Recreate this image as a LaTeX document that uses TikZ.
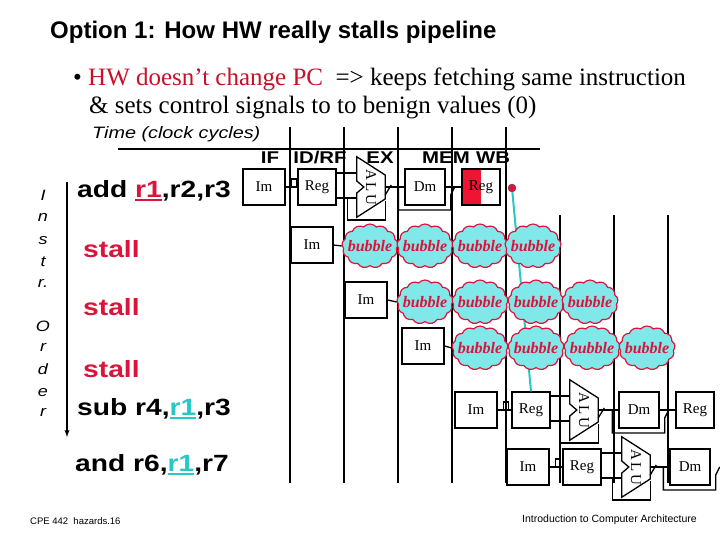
\documentclass[tikz,border=0pt]{standalone}
\usepackage{fontspec}
\setmainfont{Liberation Serif}
\newfontfamily\wsans[FakeStretch=1.2]{Liberation Sans}
\newfontfamily\nsans{Liberation Sans}
\usetikzlibrary{arrows,calc,positioning,shapes.symbols}
\definecolor{crimson}{RGB}{220,20,60}
\definecolor{bulletred}{RGB}{200,16,40}
\definecolor{bubblecyan}{RGB}{128,232,232}
\definecolor{regcyan}{RGB}{40,200,200}
\definecolor{wbred}{RGB}{238,20,50}

\tikzset{
  clockline/.style={line width=1.4pt},
  wire/.style={line width=1.3pt},
  stage/.style={draw, line width=1.3pt, minimum height=36, inner sep=0, fill=white,
    font=\fontsize{15}{15}\selectfont},
  imbox/.style={stage, minimum width=42},
  regbox/.style={stage, minimum width=38},
  dmbox/.style={stage, minimum width=40},
  wbhalf/.style={path picture={\fill[wbred] (path picture bounding box.north west)
    rectangle (path picture bounding box.south);}},
  alubody/.style={minimum width=28, minimum height=60, inner sep=0,
    label={[rotate=-90, inner sep=0, font=\fontsize{15}{15}\selectfont]center:A\,L\,U}},
  bubbletext/.style={inner sep=0, text=crimson, font=\bfseries\itshape\fontsize{16}{16}\selectfont},
  bubble/.style={cloud, cloud puffs=13, cloud puff arc=100, cloud ignores aspect,
    draw=crimson, line width=1.2pt, fill=bubblecyan, minimum width=56, minimum height=44,
    inner sep=0, label={[bubbletext]center:bubble}},
  titletext/.style={anchor=base west, inner sep=0, font=\nsans\bfseries\fontsize{24}{28}\selectfont},
  bullettext/.style={anchor=base west, inner sep=0, font=\fontsize{25}{28}\selectfont},
  timetext/.style={anchor=base west, inner sep=0, font=\wsans\itshape\fontsize{16.5}{18}\selectfont},
  stagelbl/.style={anchor=base, inner sep=0, font=\wsans\bfseries\fontsize{17}{18}\selectfont},
  ordertext/.style={anchor=base, inner sep=0, font=\wsans\itshape\fontsize{15}{15}\selectfont},
  instr/.style={anchor=base west, inner sep=0, font=\wsans\bfseries\fontsize{23.5}{26}\selectfont},
  stalltext/.style={instr, text=crimson},
  hazdot/.style={circle, fill=crimson, draw=black!70, inner sep=0, minimum size=8},
  fwdline/.style={line width=2pt, draw=regcyan},
  foottext/.style={anchor=base west, inner sep=0, font=\nsans\fontsize{9.5}{10}\selectfont}
}

% register name with a thick underline
\newcommand{\regmark}[2]{\textcolor{#1}{\sbox0{#2}\rlap{\rule[-4pt]{\wd0}{2.2pt}}\usebox0}}

% ALU outline round an alubody node
\newcommand{\aluoutline}[1]{%
  \draw[wire] (#1.north west) -- ($(#1.east)+(0,-12)$) -- ($(#1.east)+(0,12)$)
    -- (#1.south west) -- ($(#1.west)+(0,6)$) -- ($(#1.west)+(7,0)$)
    -- ($(#1.west)+(0,-6)$) -- cycle;}

% wires of one instruction, #1 = name prefix
\newcommand{\pipewires}[1]{%
  \draw[wire] (#1-im.east) -- (#1-reg.west);
  \draw[wire] ($(#1-im.east)+(6,0)$) -- ++(0,-8) -- ++(5,0) -- ++(0,8);
  \draw[wire] ($(#1-reg.east)+(0,-14)$) -- ($(#1-alu.west)+(0,-14)$);
  \draw[wire] ($(#1-reg.east)+(0,11)$) -- ($(#1-alu.west)+(0,11)$);
  \draw[wire] ($(#1-alu.west)+(-9,11)$) |- ($(#1-alu.east)+(0,33)$) -- ++(0,-19);
  \draw[wire] (#1-alu.east) -- (#1-dm.west);
  \draw[wire] ($(#1-alu.east)+(0,8)$) -- ++(6,-10);
  \draw[wire] ($(#1-dm.west)+(-6,0)$) -- ++(0,23) -| ($(#1-dm.east)+(5,8)$) -- ++(4,-8);
  \aluoutline{#1-alu}}

\begin{document}
\begin{tikzpicture}[x=1pt,y=-1pt]
\useasboundingbox[fill=white] (0,0) rectangle (720,540);

% Heading
\node[titletext] (title) at (50,39) {Option 1: How HW really stalls pipeline};
\node[bullettext] (pt1) at (73,86)
  {\textbullet\ \textcolor{bulletred}{HW doesn't change PC}\ \ => keeps fetching same instruction};
\node[bullettext] (pt2) at (89,114) {\& sets control signals to to benign values (0)};

% Time axis
\node[timetext] (timelbl) at (92,139) {Time (clock cycles)};
\draw[clockline] (118,149) -- (540,149);
\foreach \x in {290,344,398,452,506}
  \draw[clockline] (\x,127) -- (\x,483);
\foreach \x in {560,614,668}
  \draw[clockline] (\x,215) -- (\x,483);

\node[stagelbl] (lbl-if) at (270,164) {IF};
\node[stagelbl] (lbl-id) at (320,164) {ID/RF};
\node[stagelbl] (lbl-ex) at (380,164) {EX};
\node[stagelbl] (lbl-mem) at (446,164) {MEM};
\node[stagelbl] (lbl-wb) at (493,164) {WB};

% Instr. order
\foreach \ch/\yy [count=\i] in {I/201,n/222,s/244,t/266,r./287,O/331,r/351,d/374,e/396,r/416}
  \node[ordertext] (ord-\i) at (43,\yy) {\ch};
\coordinate (ordtop) at (67,182);
\coordinate (ordbot) at (67,437);
\draw[-latex, line width=1.3pt] (ordtop) -- (ordbot);

% Instructions
\node[instr] (ins-add) at (77,197) {add \regmark{crimson}{r1},r2,r3};
\node[stalltext] (ins-st1) at (83,257) {stall};
\node[stalltext] (ins-st2) at (83,315) {stall};
\node[stalltext] (ins-st3) at (83,377) {stall};
\node[instr] (ins-sub) at (77,415) {sub r4,\regmark{regcyan}{r1},r3};
\node[instr] (ins-and) at (75,471) {and r6,\regmark{regcyan}{r1},r7};

% add
\node[imbox] (add-im) at (264,187) {Im};
\node[regbox] (add-reg) at (317,187) {Reg};
\node[alubody] (add-alu) at (371,187) {};
\node[dmbox] (add-dm) at (425,187) {Dm};
\node[regbox, wbhalf] (add-wb) at (481,187) {Reg};
\pipewires{add}
\draw[wire] (add-dm.east) -- (add-wb.west);

% sub
\node[imbox] (sub-im) at (476,410) {Im};
\node[regbox] (sub-reg) at (531,410) {Reg};
\node[alubody] (sub-alu) at (584,410) {};
\node[dmbox] (sub-dm) at (639,410) {Dm};
\node[regbox] (sub-wb) at (695,410) {Reg};
\pipewires{sub}
\draw[wire] (sub-dm.east) -- (sub-wb.west);

% and
\node[imbox] (and-im) at (528,467) {Im};
\node[regbox] (and-reg) at (582,467) {Reg};
\node[alubody] (and-alu) at (636,467) {};
\node[dmbox] (and-dm) at (690,467) {Dm};
\pipewires{and}

% r1 written back, read by sub
\node[hazdot] (wb-dot) at (512,188) {};
\draw[fwdline] (wb-dot) -- (sub-reg.north);

% stalls
\node[imbox] (st1-im) at (312,245) {Im};
\foreach \x [count=\k] in {370,425,480,533}
  \node[bubble] (st1-b\k) at (\x,246) {};
\draw[wire] (st1-im.east) -- (st1-b1.west);

\node[imbox] (st2-im) at (366,300) {Im};
\foreach \x [count=\k] in {425,480,536,590}
  \node[bubble] (st2-b\k) at (\x,302) {};
\draw[wire] (st2-im.east) -- (st2-b1.west);

\node[imbox] (st3-im) at (423,346) {Im};
\foreach \x [count=\k] in {480,536,592,647}
  \node[bubble] (st3-b\k) at (\x,348) {};
\draw[wire] (st3-im.east) -- (st3-b1.west);

% Footer
\node[foottext] (foot-l) at (30,524) {CPE 442\ \ hazards.16};
\node[foottext, font=\nsans\fontsize{10.5}{11}\selectfont] (foot-r) at (522,522)
  {Introduction to Computer Architecture};

\end{tikzpicture}
\end{document}
